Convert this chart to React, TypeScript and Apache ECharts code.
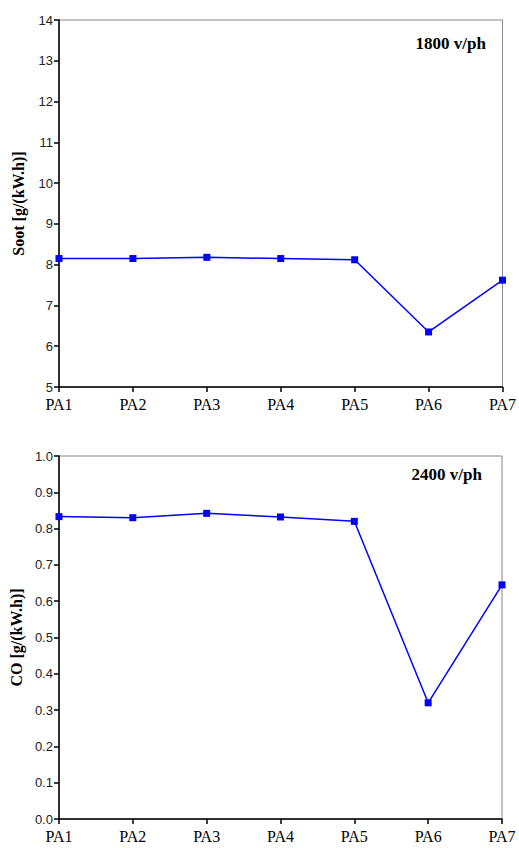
import React, { useEffect, useRef } from "react";
import * as echarts from "echarts";

const categories = ["PA1", "PA2", "PA3", "PA4", "PA5", "PA6", "PA7"];
const sootValues = [8.15, 8.15, 8.18, 8.15, 8.12, 6.35, 7.62];
const coValues = [0.833, 0.83, 0.842, 0.832, 0.82, 0.32, 0.645];
const sootTitle = "Soot [g/(kW.h)]";
const coTitle = "CO [g/(kW.h)]";
const sootNote = "1800 v/ph";
const coNote = "2400 v/ph";

const serif = "'Liberation Serif', 'Times New Roman', serif";
const sans = "'Liberation Sans', Arial, sans-serif";
const blue = "#0000ff";

function xAxisFor(gridIndex: number) {
  return {
    type: "category",
    gridIndex,
    data: categories,
    boundaryGap: false,
    axisLine: { show: true, lineStyle: { color: "#000", width: 1.5 } },
    axisTick: { show: true, length: 5, lineStyle: { color: "#000", width: 1.5 } },
    axisLabel: { color: "#000", fontFamily: serif, fontSize: 16, margin: 9 },
    splitLine: { show: false },
  };
}

function yAxisFor(gridIndex: number, min: number, max: number, interval: number, name: string, nameGap: number, decimals: number) {
  return {
    type: "value",
    gridIndex,
    min,
    max,
    interval,
    name,
    nameLocation: "middle",
    nameGap,
    nameTextStyle: { color: "#000", fontFamily: serif, fontSize: 16, fontWeight: "bold" },
    axisLine: { show: true, lineStyle: { color: "#000", width: 1.5 } },
    axisTick: { show: true, length: 5, lineStyle: { color: "#000", width: 1.5 } },
    axisLabel: {
      color: "#222",
      fontFamily: sans,
      fontSize: 13,
      margin: 6,
      formatter: (v: number) => v.toFixed(decimals),
    },
    splitLine: { show: false },
  };
}

export default function App() {
  const ref = useRef<HTMLDivElement>(null);
  useEffect(() => {
    if (!ref.current) return;
    const chart = echarts.init(ref.current, undefined, { renderer: "svg" });
    chart.setOption({
      animation: false,
      backgroundColor: "#fff",
      grid: [
        { left: 59, right: 16, top: 20, height: 367, show: true, borderColor: "#888", borderWidth: 1, backgroundColor: "transparent" },
        { left: 54, right: 17, top: 456, height: 363, show: true, borderColor: "#888", borderWidth: 1, backgroundColor: "transparent" },
      ],
      xAxis: [xAxisFor(0), xAxisFor(1)],
      yAxis: [
        yAxisFor(0, 5, 14, 1, sootTitle, 33, 0),
        yAxisFor(1, 0, 1, 0.1, coTitle, 32, 1),
      ],
      series: [
        {
          type: "line",
          xAxisIndex: 0,
          yAxisIndex: 0,
          data: sootValues,
          symbol: "rect",
          symbolSize: 7,
          itemStyle: { color: blue },
          lineStyle: { color: blue, width: 1.5 },
        },
        {
          type: "line",
          xAxisIndex: 1,
          yAxisIndex: 1,
          data: coValues,
          symbol: "rect",
          symbolSize: 7,
          itemStyle: { color: blue },
          lineStyle: { color: blue, width: 1.5 },
        },
      ],
      graphic: [
        {
          type: "text",
          right: 519 - 486,
          top: 35,
          style: { text: sootNote, fontFamily: serif, fontSize: 17, fontWeight: "bold", fill: "#000" },
        },
        {
          type: "text",
          right: 519 - 482,
          top: 466,
          style: { text: coNote, fontFamily: serif, fontSize: 17, fontWeight: "bold", fill: "#000" },
        },
      ],
    });
    return () => chart.dispose();
  }, []);
  return (
    <div
      ref={ref}
      style={{ position: "fixed", left: 0, top: 0, width: 519, height: 848 }}
    />
  );
}
